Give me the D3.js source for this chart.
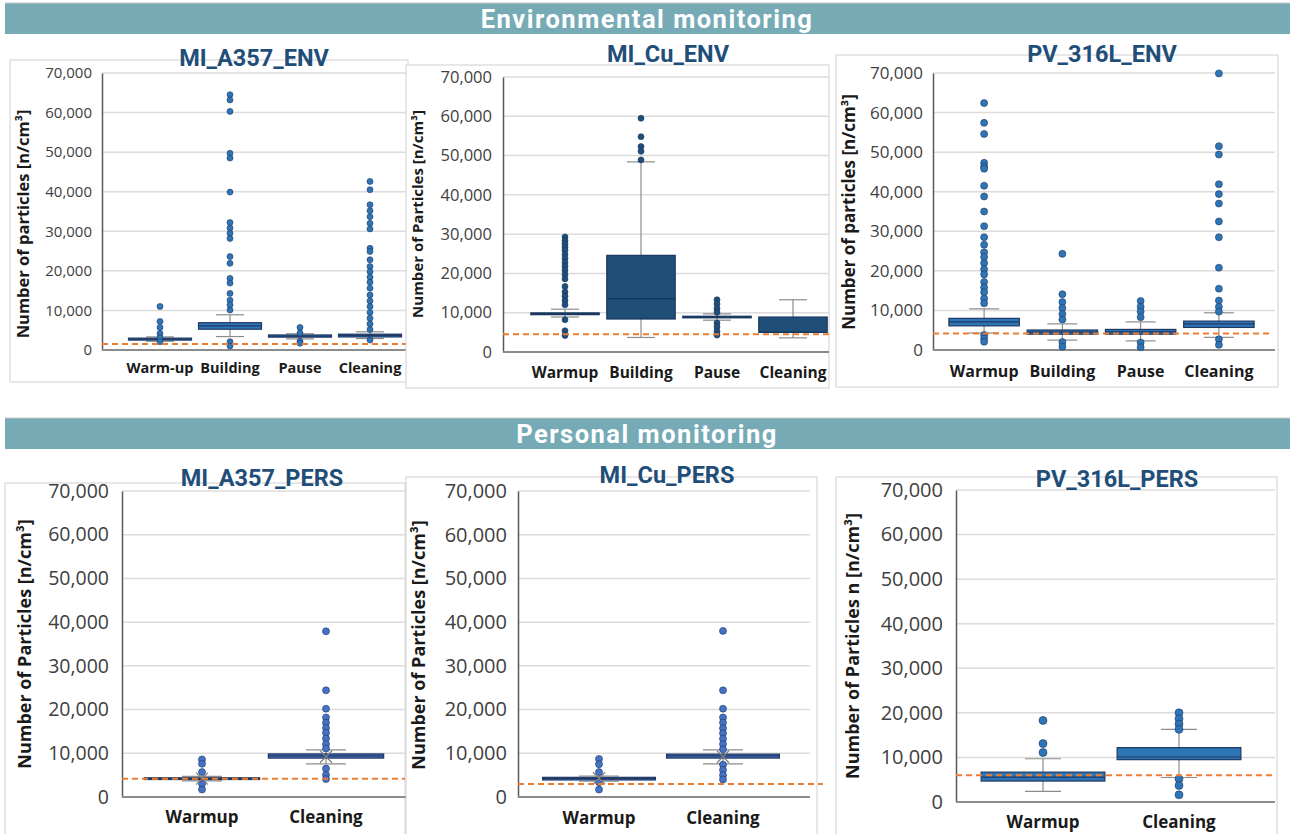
<!DOCTYPE html>
<html>
<head>
<meta charset="utf-8">
<script src="https://cdn.jsdelivr.net/npm/d3@7"></script>
<style>
  body { margin: 0; background: #fff; }
  svg { display: block; }
  .tick text { fill: #404040; font-family: "Open Sans", sans-serif; }
</style>
</head>
<body>
<svg id="chart" width="1290" height="834"></svg>
<script>
// ---- data: box stats are [q1, median, q3, lowWhisker, highWhisker] ----
var fourPhases = ["Warm-up", "Building", "Pause", "Cleaning"];
var fourPhasesB = ["Warmup", "Building", "Pause", "Cleaning"];
var twoPhases = ["Warmup", "Cleaning"];
var yTicks = [0, 10000, 20000, 30000, 40000, 50000, 60000, 70000];

var a357EnvBoxes = [[2500, 2750, 3000, 2200, 3300], [5250, 6100, 6900, 3400, 8900], [3250, 3500, 3800, 2800, 4100], [3300, 3700, 4000, 2900, 4600]];
var a357EnvOutliers = [
  [11000, 7200, 5700, 4200, 3100, 2100],
  [64500, 63200, 60300, 49700, 48500, 39900, 32200, 30800, 29500, 28200, 23600, 21900, 18100, 16900, 14300, 12600, 11400, 10100, 2100, 1000],
  [5700, 4300, 2200, 1700],
  [42600, 40500, 36700, 35200, 33700, 32000, 30600, 25700, 24900, 22800, 21100, 19800, 18400, 17100, 15600, 13900, 12400, 11000, 9500, 8000, 6600, 5200, 2500]
];
var a357EnvLimit = 1500;

var cuEnvBoxes = [[9500, 9750, 9950, 8900, 10900], [8400, 13600, 24600, 3700, 48400], [8700, 8900, 9100, 8100, 9700], [5000, 5000, 8900, 3600, 13300]];
var cuEnvOutliers = [
  [29300, 28400, 27600, 26700, 25900, 24800, 23800, 22800, 21800, 20800, 19700, 18600, 16700, 15300, 14200, 13100, 12000, 8200, 5400, 4200],
  [59500, 54800, 52300, 51100, 48900],
  [13300, 12200, 11100, 10100, 7400, 6400, 5300, 4300],
  []
];
var cuEnvLimit = 4500;

var pvEnvBoxes = [[6100, 7100, 8000, 4300, 10400], [4000, 4500, 5050, 2500, 6600], [4000, 4600, 5200, 2300, 7100], [5700, 6600, 7300, 3200, 9400]];
var pvEnvOutliers = [
  [62400, 57400, 54600, 47300, 46400, 45800, 41500, 38800, 35000, 31300, 28500, 26600, 24700, 23500, 22000, 20400, 19100, 17200, 15800, 14600, 13000, 11800, 3800, 2900, 2100],
  [24300, 14100, 12100, 10600, 9100, 7700, 2000, 800],
  [12400, 10900, 9700, 8300, 1900, 700],
  [69900, 51500, 49400, 41900, 39400, 37000, 32500, 28500, 20800, 15500, 12500, 10900, 9700, 2700, 1300]
];
var pvEnvLimit = 4200;

var a357PersBoxes = [[4000, 4200, 4400, 3700, 4700], [8900, 9400, 9850, 7600, 10800]];
var a357PersMeans = [4200, 9200];
var a357PersOutliers = [
  [8600, 7600, 5700, 3000, 1700],
  [37900, 24400, 20200, 18200, 17000, 15800, 14700, 13400, 12100, 11100, 6500, 5100, 4100]
];
var a357PersLimit = 4200;

var cuPersBoxes = [[3900, 4200, 4500, 3600, 4800], [8900, 9400, 9800, 7600, 10800]];
var cuPersMeans = [4300, 9200];
var cuPersOutliers = [
  [8700, 7500, 5700, 3400, 1700],
  [38000, 24400, 20200, 18200, 17000, 15700, 14600, 13300, 12100, 10900, 7400, 6200, 5000, 4000]
];
var cuPersLimit = 3000;

var pvPersBoxes = [[4700, 5600, 6700, 2400, 9700], [9500, 10100, 12200, 5500, 16300]];
var pvPersOutliers = [
  [18300, 13100, 11100],
  [20000, 18700, 17500, 16300, 5200, 3700, 1600]
];
var pvPersLimit = 6000;

// ---- layout ----
var svg = d3.select("#chart");

var banners = [
  { text: "Environmental monitoring", y: 3 },
  { text: "Personal monitoring", y: 418 }
];

var panels = [
  { title: "MI_A357_ENV", tx: 254, ty: 66, frame: [10, 60, 408, 382],
    axisX: 102, top: 73, bottom: 350, right: 408, band: [125, 405], bw: 0.9,
    cats: fourPhases, boxes: a357EnvBoxes, outliers: a357EnvOutliers, limit: a357EnvLimit, limitEnd: 408,
    ylabel: "Number of particles [n/cm³]", ylx: 22, yly: 224, tick: 15, pad: 10, cat: 14.5, catY: 373, ylab: 16.5,
    fill: "#2E75B6", stroke: "#1F3864", dot: "#2E75B6", r: 3, cap: 28 },
  { title: "MI_Cu_ENV", tx: 668, ty: 62, frame: [406, 65, 829, 388],
    axisX: 503, top: 77, bottom: 352, right: 829, band: [527, 831], bw: 0.9,
    cats: fourPhasesB, boxes: cuEnvBoxes, outliers: cuEnvOutliers, limit: cuEnvLimit, limitEnd: 829,
    ylabel: "Number of Particles [n/cm³]", ylx: 417, yly: 214, tick: 16.5, pad: 11, cat: 15.5, catY: 378, ylab: 15,
    fill: "#1F4E79", stroke: "#17375E", dot: "#1F4E79", r: 3, cap: 28 },
  { title: "PV_316L_ENV", tx: 1102, ty: 62, frame: [836, 55, 1278, 387],
    axisX: 933, top: 73, bottom: 350, right: 1275, band: [945, 1258], bw: 0.9,
    cats: fourPhasesB, boxes: pvEnvBoxes, outliers: pvEnvOutliers, limit: pvEnvLimit, limitEnd: 1272,
    ylabel: "Number of particles [n/cm³]", ylx: 848, yly: 212, tick: 17, pad: 10, cat: 16, catY: 377, ylab: 17,
    fill: "#2E75B6", stroke: "#1F3864", dot: "#2E75B6", r: 3.5, cap: 30 },
  { title: "MI_A357_PERS", tx: 262, ty: 486, frame: [5, 483, 405, 845],
    axisX: 122, top: 491, bottom: 797, right: 410, band: [140, 388], bw: 0.93,
    cats: twoPhases, boxes: a357PersBoxes, means: a357PersMeans, outliers: a357PersOutliers, limit: a357PersLimit, limitEnd: 405,
    ylabel: "Number of Particles [n/cm³]", ylx: 24, yly: 644, tick: 19.5, pad: 13, cat: 17, catY: 823, ylab: 18,
    fill: "#4472C4", stroke: "#203864", dot: "#4472C4", r: 3.5, cap: 40 },
  { title: "MI_Cu_PERS", tx: 667, ty: 483, frame: [406, 477, 817, 845],
    axisX: 518, top: 491, bottom: 797, right: 810, band: [537, 785], bw: 0.91,
    cats: twoPhases, boxes: cuPersBoxes, means: cuPersMeans, outliers: cuPersOutliers, limit: cuPersLimit, limitEnd: 823,
    ylabel: "Number of Particles [n/cm³]", ylx: 418, yly: 645, tick: 20, pad: 11, cat: 17, catY: 824, ylab: 18,
    fill: "#4472C4", stroke: "#203864", dot: "#4472C4", r: 3.5, cap: 40 },
  { title: "PV_316L_PERS", tx: 1117, ty: 487, frame: [836, 477, 1277, 845],
    axisX: 956, top: 490, bottom: 802, right: 1275, band: [975, 1247], bw: 0.91,
    cats: twoPhases, boxes: pvPersBoxes, outliers: pvPersOutliers, limit: pvPersLimit, limitEnd: 1275,
    ylabel: "Number of Particles n [n/cm³]", ylx: 852, yly: 646, tick: 20, pad: 13, cat: 17, catY: 828, ylab: 18,
    fill: "#2E75B6", stroke: "#1F3864", dot: "#2E75B6", r: 4, cap: 36 }
];

// banners
banners.forEach(function(b) {
  svg.append("rect")
    .attr("x", 5).attr("y", b.y).attr("width", 1285).attr("height", 31)
    .attr("fill", "#76ABB6");
  svg.append("line")
    .attr("x1", 5).attr("x2", 1290).attr("y1", b.y).attr("y2", b.y)
    .attr("stroke", "#C8C8C8").attr("stroke-width", 1);
  svg.append("text")
    .attr("x", 647).attr("y", b.y + 25)
    .attr("text-anchor", "middle")
    .attr("fill", "#fff")
    .style("font-family", "Roboto, sans-serif")
    .style("font-weight", 700)
    .style("font-size", "25.5px")
    .style("letter-spacing", "1.5px")
    .text(b.text);
});

panels.forEach(drawPanel);

function drawPanel(p) {
  var g = svg.append("g");

  // frame
  g.append("rect")
    .attr("x", p.frame[0]).attr("y", p.frame[1])
    .attr("width", p.frame[2] - p.frame[0]).attr("height", p.frame[3] - p.frame[1])
    .attr("fill", "#fff").attr("stroke", "#D0D0D0").attr("stroke-width", 1);

  var y = d3.scaleLinear().domain([0, 70000]).range([p.bottom, p.top]);
  var x = d3.scaleBand().domain(p.cats).range(p.band).paddingInner(0).paddingOuter(0);
  var boxW = x.bandwidth() * p.bw;

  // gridlines
  g.selectAll(".grid")
    .data(yTicks.filter(function(d) { return d > 0; }))
    .enter().append("line")
      .attr("x1", p.axisX).attr("x2", p.right)
      .attr("y1", function(d) { return y(d); })
      .attr("y2", function(d) { return y(d); })
      .attr("stroke", "#DCDCDC").attr("stroke-width", 1.5);

  // y axis
  var yAxis = g.append("g")
    .attr("transform", "translate(" + p.axisX + ",0)")
    .call(d3.axisLeft(y).tickValues(yTicks).tickSize(0).tickPadding(p.pad).tickFormat(d3.format(",")));
  yAxis.select(".domain").attr("stroke", "#595959").attr("stroke-width", 1.5);
  yAxis.selectAll("text").style("font-size", p.tick + "px");

  // x axis line
  g.append("line")
    .attr("x1", p.axisX).attr("x2", p.right)
    .attr("y1", y(0)).attr("y2", y(0))
    .attr("stroke", "#8C8C8C").attr("stroke-width", 2);

  // category labels
  g.selectAll(".cat")
    .data(p.cats)
    .enter().append("text")
      .attr("x", function(d) { return x(d) + x.bandwidth() / 2; })
      .attr("y", p.catY)
      .attr("text-anchor", "middle")
      .attr("fill", "#1a1a1a")
      .style("font-family", "'Open Sans', sans-serif")
      .style("font-weight", 700)
      .style("font-size", p.cat + "px")
      .text(function(d) { return d; });

  // y label
  g.append("text")
    .attr("transform", "translate(" + p.ylx + "," + p.yly + ") rotate(-90)")
    .attr("text-anchor", "middle")
    .attr("dominant-baseline", "central")
    .attr("fill", "#1a1a1a")
    .style("font-family", "'Open Sans', sans-serif")
    .style("font-weight", 700)
    .style("font-size", p.ylab + "px")
    .text(p.ylabel);

  // boxes
  p.cats.forEach(function(c, i) {
    var s = p.boxes[i];
    var cx = x(c) + x.bandwidth() / 2;
    var bg = g.append("g");

    // whiskers
    bg.append("line")
      .attr("x1", cx).attr("x2", cx).attr("y1", y(s[3])).attr("y2", y(s[0]))
      .attr("stroke", "#8C8C8C").attr("stroke-width", 1.2);
    bg.append("line")
      .attr("x1", cx).attr("x2", cx).attr("y1", y(s[2])).attr("y2", y(s[4]))
      .attr("stroke", "#8C8C8C").attr("stroke-width", 1.2);
    [s[3], s[4]].forEach(function(v) {
      bg.append("line")
        .attr("x1", cx - p.cap / 2).attr("x2", cx + p.cap / 2)
        .attr("y1", y(v)).attr("y2", y(v))
        .attr("stroke", "#8C8C8C").attr("stroke-width", 1.2);
    });

    // box
    bg.append("rect")
      .attr("x", cx - boxW / 2).attr("width", boxW)
      .attr("y", y(s[2])).attr("height", Math.max(y(s[0]) - y(s[2]), 1.5))
      .attr("fill", p.fill).attr("stroke", p.stroke).attr("stroke-width", 1.2);
    bg.append("line")
      .attr("x1", cx - boxW / 2).attr("x2", cx + boxW / 2)
      .attr("y1", y(s[1])).attr("y2", y(s[1]))
      .attr("stroke", p.stroke).attr("stroke-width", 1.2);

    // outliers
    bg.selectAll("circle")
      .data(p.outliers[i])
      .enter().append("circle")
        .attr("cx", cx).attr("cy", function(d) { return y(d); })
        .attr("r", p.r)
        .attr("fill", p.dot).attr("stroke", p.stroke).attr("stroke-width", 0.6);

    // mean marker
    if (p.means) {
      bg.append("path")
        .attr("transform", "translate(" + cx + "," + y(p.means[i]) + ")")
        .attr("d", "M-6,-6L6,6M-6,6L6,-6")
        .attr("stroke", "#7F7F7F").attr("stroke-width", 1.2).attr("fill", "none");
    }
  });

  // reference limit
  g.append("line")
    .attr("x1", p.axisX).attr("x2", p.limitEnd)
    .attr("y1", y(p.limit)).attr("y2", y(p.limit))
    .attr("stroke", "#ED7D31").attr("stroke-width", 2)
    .attr("stroke-dasharray", "6,4");

  // title
  g.append("text")
    .attr("x", p.tx).attr("y", p.ty)
    .attr("text-anchor", "middle")
    .attr("fill", "#1F4E79")
    .style("font-family", "Roboto, sans-serif")
    .style("font-weight", 700)
    .style("font-size", "23.5px")
    .text(p.title);
}
</script>
</body>
</html>
